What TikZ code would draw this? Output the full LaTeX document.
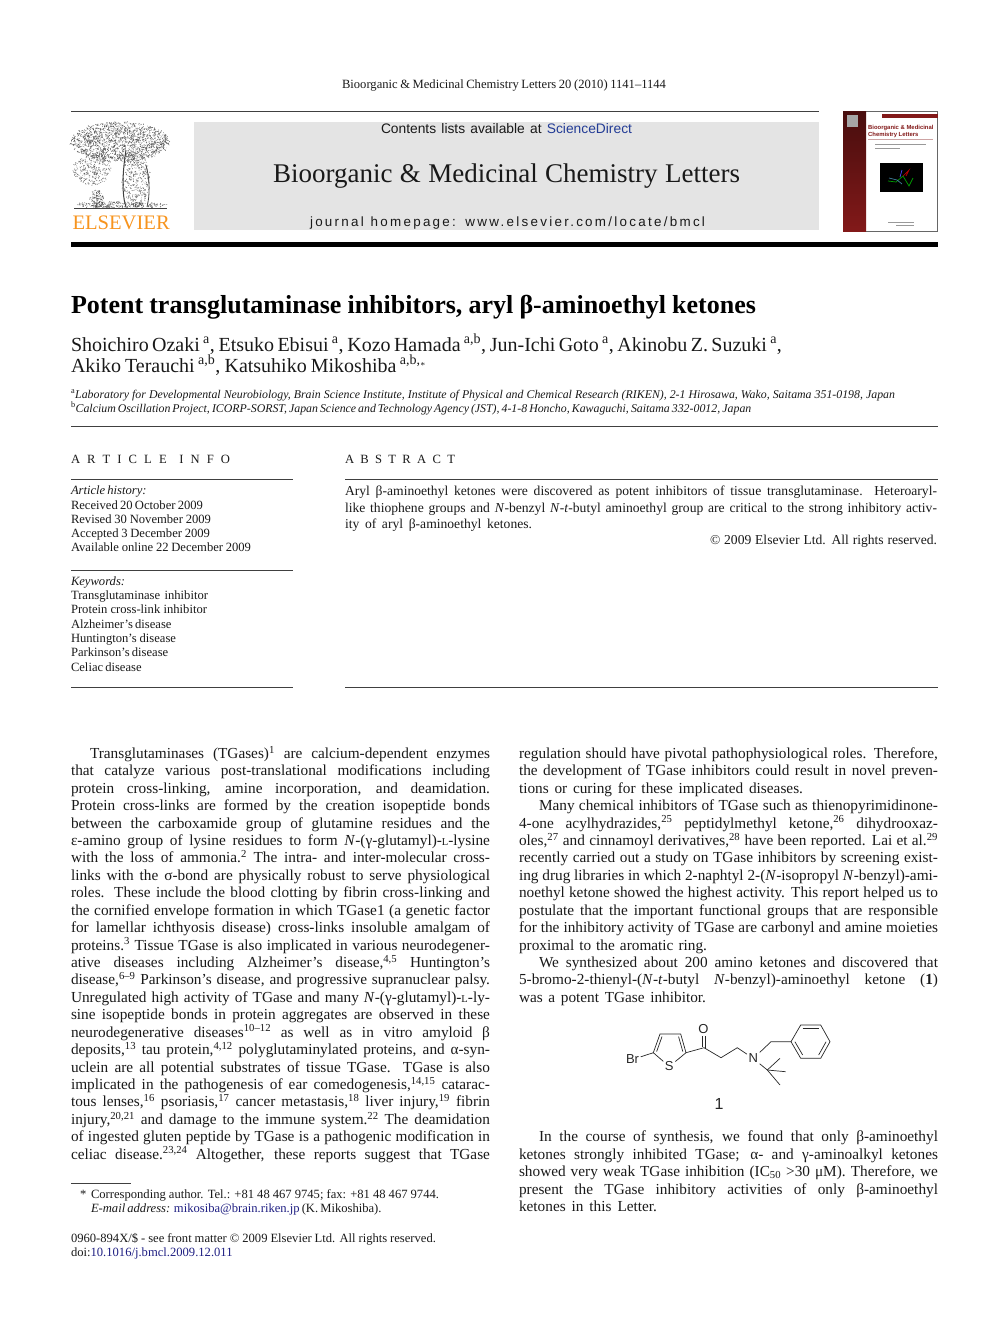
\documentclass[tikz,border=0pt]{standalone}
\usepackage{fontspec}
\setmainfont{Liberation Serif}
\setsansfont{Liberation Sans}
\newfontfamily\trackedSans[LetterSpace=17]{Liberation Sans}
\usetikzlibrary{calc}
\definecolor{headBox}{RGB}{228,228,228}
\definecolor{linkBlue}{RGB}{30,30,130}
\definecolor{directBlue}{RGB}{35,60,150}
\definecolor{elsevierOrange}{RGB}{247,148,30}
\definecolor{coverRed}{RGB}{130,25,25}
\tikzstyle{pagePicture} = [x = 1pt, y = -1pt]
\tikzstyle{lineBase} = [anchor = base west, inner sep = 0pt, outer sep = 0pt, text = black!90]
\tikzstyle{bodyText} = [lineBase, font = \fontsize{15.3}{17}\selectfont]
\tikzstyle{abstractText} = [lineBase, font = \fontsize{13.6}{16}\selectfont]
\tikzstyle{smallText} = [lineBase, font = \fontsize{12.6}{14}\selectfont]
\tikzstyle{affilText} = [lineBase, font = \fontsize{11.85}{14}\selectfont\itshape]
\tikzstyle{authorText} = [lineBase, font = \fontsize{20}{23}\selectfont]
\tikzstyle{titleText} = [lineBase, font = \fontsize{26}{28}\selectfont\bfseries, text = black]
\tikzstyle{headingText} = [lineBase, font = \fontsize{12.6}{14}\selectfont]
\tikzstyle{sansText} = [lineBase, font = \fontsize{13.8}{15}\selectfont\sffamily]
\tikzstyle{thinRule} = [color = black!75, line width = .7pt]
\tikzstyle{bondLine} = [color = black!85, line width = .7pt]
\tikzstyle{atomText} = [font = \fontsize{13}{13}\selectfont\sffamily, inner sep = 1.5pt, text = black!85]
\tikzstyle{leafStroke} = [color = black!65, line width = .4pt]
\newcounter{lineCount}
\newcommand{\textLine}[5]{\stepcounter{lineCount}\node (line\arabic{lineCount}) [#1] at (#2,#3) {\makebox[#4pt][s]{#5}};}
\newcommand{\rowLine}[4]{\pgfmathsetmacro{\rowBase}{758.3 + 17.43 * (#2 - 1)}\textLine{bodyText}{#1}{\rowBase}{#3}{#4}}
\newcommand{\leftRow}[2]{\rowLine{71}{#1}{419}{#2}}
\newcommand{\rightRow}[2]{\rowLine{519}{#1}{419}{#2}}
\newcommand{\refMark}[1]{\textsuperscript{#1}}
\newcommand{\smallL}{{\fontsize{10.5}{10.5}\selectfont L}}
\newcommand{\linkText}[1]{\textcolor{linkBlue}{#1}}
\newcommand{\innerBond}[3]{\draw [bondLine] ($(#1)!.2!(#3)$) -- ($(#2)!.2!(#3)$);}
\newcommand{\leafPatch}[6]{
  \foreach \i in {1,...,#6} {
    \pgfmathsetmacro{\leafAngle}{rnd * 360}
    \pgfmathsetmacro{\leafRadius}{sqrt(rnd)}
    \pgfmathsetmacro{\leafX}{#1 + #3 * \leafRadius * cos(\leafAngle)}
    \pgfmathsetmacro{\leafY}{#2 + #4 * \leafRadius * sin(\leafAngle)}
    \draw [leafStroke, color = black!#5] (\leafX,\leafY) -- +(rnd * 3 - 1.5, rnd * 3 - 1.5);
  }
}
\begin{document}
\begin{tikzpicture}[pagePicture]
  \useasboundingbox (0,0) rectangle (992,1323);

  % running head and masthead
  \textLine{smallText}{342}{88}{324}{Bioorganic \& Medicinal Chemistry Letters 20 (2010) 1141–1144}
  \draw [thinRule] (71,111) -- (819,111);
  \fill [headBox] (194,122) rectangle (819,230);
  \textLine{sansText}{381}{133.5}{251}{Contents lists available at \textcolor{directBlue}{ScienceDirect}}
  \textLine{lineBase, font = \fontsize{27}{29}\selectfont}{273}{182}{467}{Bioorganic \& Medicinal Chemistry Letters}
  \textLine{lineBase, font = \fontsize{13.4}{15}\selectfont\trackedSans}{310}{226.5}{395}{journal homepage: www.elsevier.com/locate/bmcl}
  \fill [black] (71,242) rectangle (938,247);

  % publisher tree
  \pgfmathsetseed{11}
  \leafPatch{120}{142}{49}{20}{70}{1500}
  \leafPatch{92}{170}{19}{15}{65}{260}
  \leafPatch{97}{199}{7}{9}{75}{110}
  \leafPatch{136}{180}{14}{27}{65}{340}
  \leafPatch{120}{205}{46}{3}{75}{220}
  \draw [black!75, line width = 1pt] (126,150) .. controls (122,175) and (122,195) .. (126,207);
  \draw [black!70, line width = .8pt] (146,165) .. controls (150,180) and (150,195) .. (147,207);
  \draw [black!75, line width = .8pt] (74,208) -- (167,208);
  \node (elsevierMark) [lineBase, font = \fontsize{20.6}{24}\selectfont, text = elsevierOrange] at (72.5,229.5) {ELSEVIER};

  % journal cover
  \draw [black!60, line width = .4pt] (843,111) rectangle (937.6,231);
  \shade [top color = coverRed!55!black, bottom color = coverRed] (843,111) rectangle (866,231);
  \fill [black!35] (847,115) rectangle (858,127);
  \fill [coverRed] (882,114) rectangle (937.6,117.5);
  \node (coverTitle) [anchor = north west, inner sep = 0pt, align = left, text = coverRed, font = \fontsize{5.9}{6.6}\selectfont\sffamily\bfseries] at (868,125) {Bioorganic \& Medicinal\\Chemistry Letters};
  \draw [coverRed!40, line width = .4pt] (868,139) -- (933,139);
  \draw [black!40, line width = .5pt] (875,144) -- (926,144);
  \draw [black!40, line width = .5pt] (875,148) -- (900,148);
  \fill [black] (880,163) rectangle (923,192);
  \draw [green!60!black, line width = .7pt] (888,181) -- (896,182) -- (903,176) -- (909,186) -- (913,178);
  \draw [cyan!60!black, line width = .7pt] (889,178) -- (897,180) -- (902,184);
  \draw [red!70!black, line width = .7pt] (903,176) -- (909,170) -- (906,176);
  \draw [blue!70!white, line width = .7pt] (900,177) -- (902,170);
  \draw [black!40, line width = .5pt] (888,222.5) -- (914,222.5);
  \draw [black!40, line width = .5pt] (896,225.5) -- (914,225.5);

  % title, authors, affiliations
  \textLine{titleText}{71}{313}{685}{Potent transglutaminase inhibitors, aryl β-aminoethyl ketones}
  \textLine{authorText}{71}{351}{711}{Shoichiro Ozaki\,\refMark{a}, Etsuko Ebisui\,\refMark{a}, Kozo Hamada\,\refMark{a,b}, Jun-Ichi Goto\,\refMark{a}, Akinobu Z. Suzuki\,\refMark{a},}
  \textLine{authorText}{71}{372}{354}{Akiko Terauchi\,\refMark{a,b}, Katsuhiko Mikoshiba\,\refMark{a,b,}\raisebox{4pt}{\fontsize{9}{9}\selectfont *}}
  \textLine{affilText}{71}{398}{824}{\refMark{\upshape a}Laboratory for Developmental Neurobiology, Brain Science Institute, Institute of Physical and Chemical Research (RIKEN), 2-1 Hirosawa, Wako, Saitama 351-0198, Japan}
  \textLine{affilText}{71}{412}{680}{\refMark{\upshape b}Calcium Oscillation Project, ICORP-SORST, Japan Science and Technology Agency (JST), 4-1-8 Honcho, Kawaguchi, Saitama 332-0012, Japan}
  \draw [thinRule] (71,426) -- (938,426);

  % article info
  \textLine{headingText}{71}{463}{159}{A\ R\ T\ I\ C\ L\ E\quad I\ N\ F\ O}
  \textLine{headingText}{345}{463}{110}{A\ B\ S\ T\ R\ A\ C\ T}
  \draw [thinRule] (71,479) -- (293,479);
  \draw [thinRule] (345,479) -- (938,479);
  \textLine{smallText, font = \fontsize{12.6}{14}\selectfont\itshape}{71}{494}{71}{Article history:}
  \textLine{smallText}{71}{509}{132}{Received 20 October 2009}
  \textLine{smallText}{71}{523}{140}{Revised 30 November 2009}
  \textLine{smallText}{71}{537}{139}{Accepted 3 December 2009}
  \textLine{smallText}{71}{551}{180}{Available online 22 December 2009}
  \draw [thinRule] (71,570) -- (293,570);
  \textLine{smallText, font = \fontsize{12.6}{14}\selectfont\itshape}{71}{585}{50}{Keywords:}
  \textLine{smallText}{71}{599}{137}{Transglutaminase inhibitor}
  \textLine{smallText}{71}{613}{136}{Protein cross-link inhibitor}
  \textLine{smallText}{71}{628}{99}{Alzheimer’s disease}
  \textLine{smallText}{71}{642}{105}{Huntington’s disease}
  \textLine{smallText}{71}{656}{97}{Parkinson’s disease}
  \textLine{smallText}{71}{671}{70}{Celiac disease}
  \draw [thinRule] (71,687) -- (293,687);
  \draw [thinRule] (345,687) -- (938,687);

  % abstract
  \textLine{abstractText}{345}{495.5}{592}{Aryl β-aminoethyl ketones were discovered as potent inhibitors of tissue transglutaminase. Heteroaryl-}
  \textLine{abstractText}{345}{512}{592}{like thiophene groups and \textit{N}-benzyl \textit{N}-\textit{t}-butyl aminoethyl group are critical to the strong inhibitory activ-}
  \textLine{abstractText}{345}{528}{187}{ity of aryl β-aminoethyl ketones.}
  \textLine{abstractText}{710}{544}{227}{© 2009 Elsevier Ltd. All rights reserved.}

  % left column
  \rowLine{90}{1}{400}{Transglutaminases (TGases)\refMark{1} are calcium-dependent enzymes}
  \leftRow{2}{that catalyze various post-translational modifications including}
  \leftRow{3}{protein cross-linking, amine incorporation, and deamidation.}
  \leftRow{4}{Protein cross-links are formed by the creation isopeptide bonds}
  \leftRow{5}{between the carboxamide group of glutamine residues and the}
  \leftRow{6}{ε-amino group of lysine residues to form \textit{N}-(γ-glutamyl)-\smallL-lysine}
  \leftRow{7}{with the loss of ammonia.\refMark{2} The intra- and inter-molecular cross-}
  \leftRow{8}{links with the σ-bond are physically robust to serve physiological}
  \leftRow{9}{roles. These include the blood clotting by fibrin cross-linking and}
  \leftRow{10}{the cornified envelope formation in which TGase1 (a genetic factor}
  \leftRow{11}{for lamellar ichthyosis disease) cross-links insoluble amalgam of}
  \leftRow{12}{proteins.\refMark{3} Tissue TGase is also implicated in various neurodegener-}
  \leftRow{13}{ative diseases including Alzheimer’s disease,\refMark{4,5} Huntington’s}
  \leftRow{14}{disease,\refMark{6–9} Parkinson’s disease, and progressive supranuclear palsy.}
  \leftRow{15}{Unregulated high activity of TGase and many \textit{N}-(γ-glutamyl)-\smallL-ly-}
  \leftRow{16}{sine isopeptide bonds in protein aggregates are observed in these}
  \leftRow{17}{neurodegenerative diseases\refMark{10–12} as well as in vitro amyloid β}
  \leftRow{18}{deposits,\refMark{13} tau protein,\refMark{4,12} polyglutaminylated proteins, and α-syn-}
  \leftRow{19}{uclein are all potential substrates of tissue TGase. TGase is also}
  \leftRow{20}{implicated in the pathogenesis of ear comedogenesis,\refMark{14,15} catarac-}
  \leftRow{21}{tous lenses,\refMark{16} psoriasis,\refMark{17} cancer metastasis,\refMark{18} liver injury,\refMark{19} fibrin}
  \leftRow{22}{injury,\refMark{20,21} and damage to the immune system.\refMark{22} The deamidation}
  \leftRow{23}{of ingested gluten peptide by TGase is a pathogenic modification in}
  \leftRow{24}{celiac disease.\refMark{23,24} Altogether, these reports suggest that TGase}

  % right column
  \rightRow{1}{regulation should have pivotal pathophysiological roles. Therefore,}
  \rightRow{2}{the development of TGase inhibitors could result in novel preven-}
  \rowLine{519}{3}{284}{tions or curing for these implicated diseases.}
  \rowLine{539}{4}{399}{Many chemical inhibitors of TGase such as thienopyrimidinone-}
  \rightRow{5}{4-one acylhydrazides,\refMark{25} peptidylmethyl ketone,\refMark{26} dihydrooxaz-}
  \rightRow{6}{oles,\refMark{27} and cinnamoyl derivatives,\refMark{28} have been reported. Lai et al.\refMark{29}}
  \rightRow{7}{recently carried out a study on TGase inhibitors by screening exist-}
  \rightRow{8}{ing drug libraries in which 2-naphtyl 2-(\textit{N}-isopropyl \textit{N}-benzyl)-ami-}
  \rightRow{9}{noethyl ketone showed the highest activity. This report helped us to}
  \rightRow{10}{postulate that the important functional groups that are responsible}
  \rightRow{11}{for the inhibitory activity of TGase are carbonyl and amine moieties}
  \rowLine{519}{12}{188}{proximal to the aromatic ring.}
  \rowLine{539}{13}{399}{We synthesized about 200 amino ketones and discovered that}
  \rightRow{14}{5-bromo-2-thienyl-(\textit{N}-\textit{t}-butyl \textit{N}-benzyl)-aminoethyl ketone (\textbf{1})}
  \rowLine{519}{15}{187}{was a potent TGase inhibitor.}
  \rowLine{539}{23}{399}{In the course of synthesis, we found that only β-aminoethyl}
  \rightRow{24}{ketones strongly inhibited TGase; α- and γ-aminoalkyl ketones}
  \rightRow{25}{showed very weak TGase inhibition (IC\textsubscript{50} >30 μM). Therefore, we}
  \rightRow{26}{present the TGase inhibitory activities of only β-aminoethyl}
  \rowLine{519}{27}{138}{ketones in this Letter.}

  % compound 1
  \coordinate (ringFive) at (653.3,1052.7);
  \coordinate (ringFour) at (660,1034);
  \coordinate (ringThree) at (680.7,1034);
  \coordinate (ringTwo) at (686,1052.7);
  \coordinate (ringCentre) at (670,1047);
  \coordinate (ketoneC) at (704,1047.7);
  \coordinate (chainOne) at (721,1057.7);
  \coordinate (chainTwo) at (737.3,1047.7);
  \coordinate (benzylC) at (771,1041.7);
  \coordinate (phenylA) at (791,1041.7);
  \coordinate (phenylB) at (800.7,1025);
  \coordinate (phenylC) at (820.7,1025);
  \coordinate (phenylD) at (830,1041.7);
  \coordinate (phenylE) at (820.7,1058.3);
  \coordinate (phenylF) at (800.7,1058.3);
  \coordinate (phenylCentre) at (810.5,1041.7);
  \coordinate (butylC) at (767.3,1070);
  \coordinate (methylA) at (780,1058.3);
  \coordinate (methylB) at (785.7,1071.7);
  \coordinate (methylC) at (780,1085);
  \coordinate (oxygenLeft) at (702.3,1047);
  \coordinate (oxygenRight) at (705.7,1048.5);
  \node (bromineAtom) [atomText] at (632.5,1059.5) {Br};
  \node (sulfurAtom) [atomText] at (669.3,1066.5) {S};
  \node (oxygenAtom) [atomText] at (703.5,1029.5) {O};
  \node (nitrogenAtom) [atomText] at (753.3,1058.5) {N};
  \node (compoundLabel) [atomText, font = \fontsize{16}{16}\selectfont\sffamily] at (719,1103.5) {1};
  \draw [bondLine] (bromineAtom) -- (ringFive);
  \draw [bondLine] (ringFive) -- (ringFour) -- (ringThree) -- (ringTwo);
  \draw [bondLine] (ringFive) -- (sulfurAtom) -- (ringTwo);
  \innerBond{ringFive}{ringFour}{ringCentre}
  \innerBond{ringThree}{ringTwo}{ringCentre}
  \draw [bondLine] (ringTwo) -- (ketoneC) -- (chainOne) -- (chainTwo) -- (nitrogenAtom);
  \draw [bondLine] (oxygenLeft) -- (oxygenAtom.south -| oxygenLeft);
  \draw [bondLine] (oxygenRight) -- (oxygenAtom.south -| oxygenRight);
  \draw [bondLine] (nitrogenAtom) -- (benzylC) -- (phenylA);
  \draw [bondLine] (phenylA) -- (phenylB) -- (phenylC) -- (phenylD) -- (phenylE) -- (phenylF) -- (phenylA);
  \innerBond{phenylB}{phenylC}{phenylCentre}
  \innerBond{phenylD}{phenylE}{phenylCentre}
  \innerBond{phenylF}{phenylA}{phenylCentre}
  \draw [bondLine] (nitrogenAtom) -- (butylC);
  \draw [bondLine] (butylC) -- (methylA);
  \draw [bondLine] (butylC) -- (methylB);
  \draw [bondLine] (butylC) -- (methylC);

  % footnotes
  \draw [thinRule, line width = .5pt] (71,1183) -- (131,1183);
  \textLine{smallText}{80}{1198}{8}{*}
  \textLine{smallText}{91}{1198}{348}{Corresponding author. Tel.: +81 48 467 9745; fax: +81 48 467 9744.}
  \textLine{smallText}{91}{1212}{279}{\textit{E-mail address:} \linkText{mikosiba@brain.riken.jp} (K. Mikoshiba).}
  \textLine{smallText}{71}{1242}{365}{0960-894X/\$ - see front matter © 2009 Elsevier Ltd. All rights reserved.}
  \textLine{smallText}{71}{1256}{159}{doi:\linkText{10.1016/j.bmcl.2009.12.011}}
\end{tikzpicture}
\end{document}
